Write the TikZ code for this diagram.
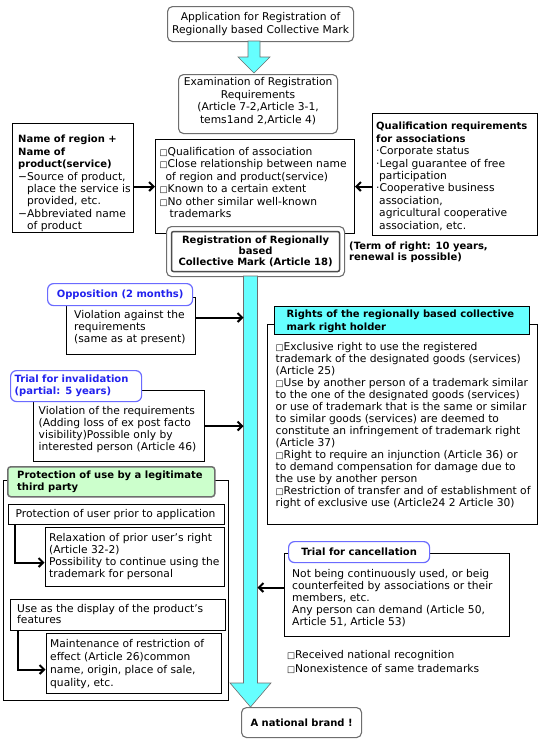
\documentclass[tikz,border=0pt]{standalone}
\usepackage{fontspec}
\setmainfont{DejaVu Sans}
\usetikzlibrary{arrows.meta}
\definecolor{cy}{HTML}{66FFFF}
\definecolor{gr}{HTML}{CCFFCC}
\definecolor{bl}{HTML}{6B6BFF}
\definecolor{bt}{HTML}{2222EE}
\definecolor{gy}{HTML}{6E6E6E}
\newcommand\fs{\fontsize{10.7}{12.4}\selectfont}
\newcommand\fsr{\fontsize{10.7}{12.0}\selectfont}
\newcommand\fb{\fontsize{10}{12}\selectfont\bfseries}
\newcommand\sq{{\fontsize{8.5}{8.5}\selectfont □}}
\begin{document}
\begin{tikzpicture}[x=1pt,y=-1pt,
  rbox/.style={draw=gy, line width=1.1pt, rounded corners=5pt, fill=white, align=center, inner sep=0pt, anchor=north west, font=\fs},
  bx/.style={draw=black, line width=1pt, anchor=north west, inner sep=0pt, fill=white},
  tx/.style={anchor=north west, inner sep=0pt, align=left, font=\fs},
  lab/.style={draw=bl, line width=1.2pt, rounded corners=6pt, fill=white, anchor=north west, inner sep=0pt, align=left, font=\fb, text=bt},
  arr/.style={line width=2pt, -{Straight Barb[length=4.5pt,width=9pt]}},
  blk/.style={fill=cy, draw=gy, line width=0.6pt, line join=miter}]
\useasboundingbox (0,0) rectangle (540,750);

% top part
\node[rbox, minimum width=186pt, minimum height=35pt] (app) at (167,6) {Application for Registration of\\Regionally based Collective Mark};
\draw[blk] (248,41) -- (260,41) -- (260,57) -- (270,57) -- (254,73) -- (238,57) -- (248,57) -- cycle;
\node[rbox, minimum width=159pt, minimum height=59pt] (exam) at (178,74) {};
\node[inner sep=0pt, align=center, font={\fontsize{10.7}{12.8}\selectfont}] (examt) at ([yshift=3pt]exam.center) {Examination of Registration\\Requirements\\(Article 7-2,Article 3-1,\\tems1and 2,Article 4)};

% left box
\node[bx, minimum width=121pt, minimum height=109pt] (nm) at (12,123) {};
\node[tx] (nmt) at (18,135) {{\fb Name of region +}\\{\fb Name of}\\{\fb product(service)}\\−Source of product,\\\hphantom{−}place the service is\\\hphantom{−}provided, etc.\\−Abbreviated name\\\hphantom{−}of product};

% centre box
\node[bx, minimum width=199pt, minimum height=94pt] (ctr) at (155,139) {};
\node[tx, font={\fontsize{10.7}{12.5}\selectfont}] (ctrt) at (159.5,147) {\sq Qualification of association\\\sq Close relationship between name\\\hspace*{6pt}of  region and product(service)\\\sq Known to a certain extent\\\sq No other similar well-known\\\hspace*{10pt}trademarks};

% right box
\node[bx, minimum width=165pt, minimum height=122pt] (qa) at (372,113) {};
\node[tx] (qat) at (376,122) {{\fb Qualification requirements}\\{\fb for associations}\\·Corporate status\\·Legal guarantee of free\\\hspace*{3pt}participation\\·Cooperative business\\\hspace*{3pt}association,\\\hspace*{3pt}agricultural cooperative\\\hspace*{3pt}association, etc.};

\draw[arr] (ctr.west -| nm.east) -- (ctr.west);
\draw[arr] (ctr.east -| qa.west) -- (ctr.east);

% registration
\node[rbox, minimum width=178pt, minimum height=50pt] (reg) at (166,226) {};
\node[draw=gy!70!black, line width=1.5pt, rounded corners=2pt, minimum width=168pt, minimum height=40pt, inner sep=0pt, align=center, font={\fontsize{10}{11.3}\selectfont\bfseries}] (regi) at (reg.center) {Registration of Regionally\\based\\Collective Mark (Article 18)};
\node[tx, font={\fontsize{10}{10.2}\selectfont\bfseries}] (term) at (349,242) {(Term of right: 10 years,\\renewal is possible)};

% shaft
\draw[blk] (243.5,276) -- (257.5,276) -- (257.5,683) -- (271,683) -- (250.5,707) -- (230,683) -- (243.5,683) -- cycle;
\coordinate (shW) at (243.5,400);
\coordinate (shE) at (257.5,400);
\node[rbox, minimum width=120pt, minimum height=30pt, font=\fb] (nat) at (241,707) {A national brand !};

% opposition
\node[bx, minimum width=129pt, minimum height=57pt] (opp) at (66,297) {};
\node[tx, font={\fontsize{10.7}{12}\selectfont}] (oppt) at (74,310.5) {Violation against the\\requirements\\(same as at present)};
\node[lab, minimum width=145pt, minimum height=22pt, align=center] (oppl) at (47,283) {Opposition (2 months)};
\draw[arr] ([yshift=8.5pt]opp.east) -- ([yshift=8.5pt]opp.east -| shW);

% invalidation
\node[bx, minimum width=171pt, minimum height=71pt] (inv) at (33,390) {};
\node[tx, font={\fontsize{10.7}{12}\selectfont}] (invt) at (38.5,406.5) {Violation of the requirements\\(Adding loss of ex post facto\\visibility)Possible only by\\interested person (Article 46)};
\node[lab, minimum width=131pt, minimum height=31pt, text width=125pt] (invl) at (10,370) {\hspace*{1pt}Trial for invalidation\\\hspace*{1pt}(partial: 5 years)};
\draw[arr] (inv.east) -- (inv.east -| shW);

% rights
\node[bx, minimum width=270pt, minimum height=200pt] (rt) at (267,324) {};
\node[tx, font=\fsr] (rtt) at (275.5,342.5) {\sq Exclusive right to use the registered\\trademark of the designated goods (services)\\(Article 25)\\\sq Use by another person of a trademark similar\\to the  one of the designated goods (services)\\or use of  trademark that is the same or similar\\to similar goods  (services)  are deemed to\\constitute an infringement of  trademark right\\(Article 37)\\\sq Right to require an injunction (Article 36) or\\to demand compensation for damage due to\\the use by another person\\\sq Restriction of transfer and of establishment of\\right of  exclusive use (Article24 2 Article 30)};
\node[bx, fill=cy, minimum width=255pt, minimum height=28pt] (rth) at (274,306) {};
\node[tx, font={\fontsize{10}{12.7}\selectfont\bfseries}] (rtht) at (286.5,309.5) {Rights of the regionally based collective\\mark right holder};

% protection
\node[bx, minimum width=225pt, minimum height=220pt] (pr) at (3,480) {};
\node[draw=gy, line width=1.5pt, fill=gr, rounded corners=3pt, anchor=north west, inner sep=0pt, minimum width=207pt, minimum height=30pt] (prh) at (7,466) {};
\node[tx, font={\fontsize{10}{11.7}\selectfont\bfseries}] (prht) at (17,470.5) {Protection of use by a legitimate\\third party};
\node[bx, minimum width=216pt, minimum height=20pt] (p1) at (8,504) {};
\node[tx] (p1t) at (15.5,509) {Protection of user prior to application};
\node[bx, minimum width=179pt, minimum height=59pt] (p2) at (44.5,527) {};
\node[tx, font={\fontsize{10.7}{12}\selectfont}] (p2t) at (49,533) {Relaxation of prior user's right\\(Article 32-2)\\Possibility to continue using the\\trademark for personal};
\draw[arr] ([xshift=7pt]p1.south west) |- ([yshift=-5.5pt]p2.west);
\node[bx, minimum width=215pt, minimum height=31pt] (u1) at (10,599) {};
\node[tx, font={\fontsize{10.7}{11.5}\selectfont}] (u1t) at (17,604) {Use as the display of the product's\\features};
\node[bx, minimum width=175pt, minimum height=60pt] (u2) at (45.5,633) {};
\node[tx, font={\fontsize{10.7}{12.8}\selectfont}] (u2t) at (50,639.5) {Maintenance of restriction of\\effect (Article 26)common\\name, origin, place of sale,\\quality, etc.};
\draw[arr] ([xshift=8pt]u1.south west) |- ([yshift=-6pt]u2.west);

% cancellation
\node[bx, minimum width=225pt, minimum height=83pt] (cn) at (284,553) {};
\node[tx, font={\fontsize{10.7}{12}\selectfont}] (cnt) at (292,569.5) {Not being continuously used, or beig\\counterfeited by associations or their\\members, etc.\\Any person can demand (Article 50,\\Article 51, Article 53)};
\node[lab, text=black, minimum width=141pt, minimum height=21pt, align=center] (cnl) at (288,541) {Trial for cancellation};
\draw[arr] ([yshift=7.5pt]cn.west) -- ([yshift=7.5pt]cn.west -| shE);
\node[tx, font={\fontsize{10.7}{13.5}\selectfont}] (free) at (287,650.5) {\sq Received national recognition\\\sq Nonexistence of same trademarks};
\end{tikzpicture}
\end{document}
